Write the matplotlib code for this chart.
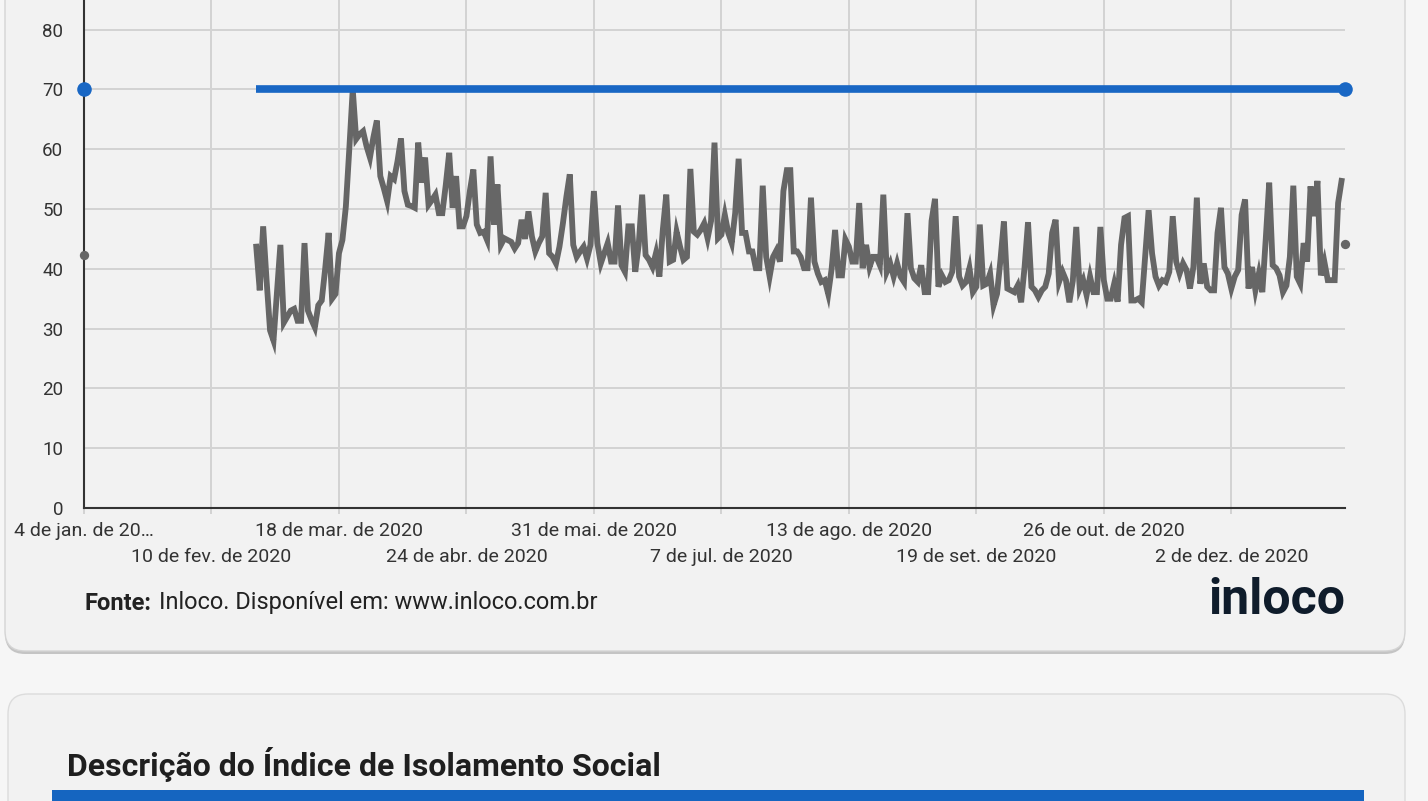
import numpy as np
import pandas as pd
import matplotlib
matplotlib.use('Agg')
import matplotlib.pyplot as plt
import matplotlib.dates as mdates
from matplotlib.patches import FancyBboxPatch, Rectangle

plt.rcParams['font.family'] = ['Roboto', 'DejaVu Sans']

# Social isolation index (%), one value per day starting on first_day
first_day = '2020-02-23'
isolation = [
    43.7, 36.4, 47.1, 38.0, 29.7, 28.0, 36.0,
    44.0, 31.0, 32.0, 33.0, 33.3, 31.3, 31.3,
    44.3, 33.0, 31.5, 30.2, 33.9, 34.7, 40.0,
    46.0, 35.0, 35.8, 42.6, 44.8, 50.4, 60.0,
    70.0, 61.7, 62.5, 63.0, 60.5, 58.6, 62.0,
    64.8, 55.5, 53.5, 51.3, 55.5, 55.0, 58.0,
    61.8, 53.0, 50.7, 50.5, 50.2, 61.1, 54.4,
    58.6, 50.7, 51.5, 52.4, 49.3, 49.3, 54.0,
    59.4, 50.2, 55.5, 47.1, 47.1, 48.8, 53.0,
    56.6, 47.4, 46.0, 46.2, 44.8, 58.8, 47.4,
    54.1, 44.0, 45.1, 44.8, 44.5, 43.4, 44.3,
    48.2, 45.0, 49.6, 45.4, 42.9, 44.3, 45.4,
    52.7, 42.6, 42.0, 40.9, 43.7, 47.6, 52.0,
    55.8, 44.0, 42.0, 42.9, 43.7, 41.7, 44.0,
    53.0, 44.3, 40.9, 42.6, 44.3, 41.2, 41.2,
    50.6, 40.6, 39.5, 47.1, 47.1, 39.5, 44.0,
    52.4, 42.3, 41.5, 40.3, 42.6, 38.7, 46.5,
    52.4, 41.2, 41.5, 46.2, 43.7, 41.5, 42.0,
    56.7, 46.2, 45.7, 46.5, 47.6, 45.1, 48.0,
    61.1, 45.1, 45.7, 49.0, 46.0, 44.3, 49.3,
    58.4, 46.0, 46.0, 42.9, 42.9, 40.1, 40.1,
    53.9, 42.0, 38.7, 42.0, 43.1, 41.2, 53.0,
    56.5, 56.5, 42.9, 42.9, 42.0, 40.1, 40.1,
    51.9, 41.2, 39.2, 37.8, 38.1, 35.8, 40.0,
    46.5, 38.9, 38.9, 44.9, 43.7, 41.2, 41.2,
    51.0, 40.1, 44.0, 40.3, 42.0, 42.0, 40.6,
    52.4, 39.5, 40.9, 38.7, 40.9, 38.7, 37.8,
    49.3, 40.1, 38.4, 37.8, 40.6, 36.1, 36.1,
    48.0, 51.7, 37.0, 38.9, 37.8, 38.1, 39.5,
    48.8, 38.7, 37.2, 37.8, 40.1, 36.1, 37.0,
    47.4, 37.2, 37.5, 39.2, 33.9, 35.8, 41.5,
    47.9, 36.7, 36.4, 36.1, 37.2, 34.4, 40.3,
    47.8, 37.0, 36.4, 35.3, 36.4, 37.0, 39.2,
    46.0, 48.2, 37.8, 39.5, 38.1, 34.4, 38.0,
    47.0, 36.7, 38.1, 35.6, 38.7, 36.1, 36.1,
    47.0, 38.1, 35.0, 35.0, 37.5, 34.5, 44.0,
    48.5, 48.8, 34.7, 34.7, 35.0, 34.4, 42.0,
    49.8, 42.6, 38.7, 37.2, 38.1, 37.8, 39.5,
    48.8, 41.2, 39.2, 40.9, 39.8, 36.7, 40.3,
    51.9, 37.5, 40.9, 37.0, 36.4, 36.4, 46.0,
    50.2, 40.3, 39.2, 36.7, 38.7, 39.8, 49.0,
    51.6, 36.7, 40.3, 36.4, 39.2, 36.1, 45.0,
    54.4, 40.6, 40.1, 38.9, 36.1, 37.2, 42.0,
    53.9, 38.7, 37.5, 44.3, 41.2, 53.8, 48.8,
    54.7, 38.9, 41.2, 38.1, 38.1, 38.1, 51.0,
    54.7,
]
reference_level = 70

# points drawn at the ends of the date range
edge_dates = ['2020-01-04', '2021-01-04']
edge_isolation = [42.3, 44.2]

row1_dates = ['2020-01-04', '2020-03-18', '2020-05-31', '2020-08-13', '2020-10-26']
row1_labels = ['4 de jan. de 20\u2026', '18 de mar. de 2020', '31 de mai. de 2020',
               '13 de ago. de 2020', '26 de out. de 2020']
row2_dates = ['2020-02-10', '2020-04-24', '2020-07-07', '2020-09-19', '2020-12-02']
row2_labels = ['10 de fev. de 2020', '24 de abr. de 2020', '7 de jul. de 2020',
               '19 de set. de 2020', '2 de dez. de 2020']
y_ticks = [0, 10, 20, 30, 40, 50, 60, 70, 80]

W, H = 1428, 801
GRAY = '#666666'
BLUE = '#1967c4'
GRID = '#d3d3d3'
TXT = '#333333'

days = pd.date_range(first_day, periods=len(isolation), freq='D')
edges = pd.to_datetime(edge_dates)

fig = plt.figure(figsize=(W / 100, H / 100), dpi=100)
fig.patch.set_facecolor('#f6f6f6')

# background layer in pixel units: cards, source, logo, section title
bg = fig.add_axes([0, 0, 1, 1])
bg.set_xlim(0, W)
bg.set_ylim(H, 0)
bg.axis('off')

bg.add_patch(FancyBboxPatch((5, -60), 1400, 714, boxstyle='round,pad=0,rounding_size=20',
                            fc='#b0b0b0', ec='none', alpha=0.7))
bg.add_patch(FancyBboxPatch((5, -60), 1400, 711, boxstyle='round,pad=0,rounding_size=20',
                            fc='#f2f2f2', ec='#d4d4d4', lw=1))
bg.add_patch(FancyBboxPatch((8, 694), 1397, 200, boxstyle='round,pad=0,rounding_size=20',
                            fc='#f2f2f2', ec='#dcdcdc', lw=1))

bg.text(85, 603, 'Fonte:', fontsize=17, fontweight='bold', color='#222222', va='center')
bg.text(159, 603, 'Inloco. Disponível em: www.inloco.com.br', fontsize=17,
        color='#222222', va='center')
bg.text(1345, 600, 'inloco', fontsize=36, fontweight='semibold', color='#0f1c2b',
        ha='right', va='center')

bg.text(67, 764, 'Descrição do Índice de Isolamento Social', fontsize=23,
        fontweight='bold', color='#1f1f1f', va='center')
bg.add_patch(Rectangle((52, 790), 1312, 20, fc='#1565c0', ec='none'))

# chart
ax = fig.add_axes([84 / W, 1 - 508 / H, (1345 - 84) / W, 508 / H])
ax.set_facecolor('none')

ax.plot(days, isolation, color=GRAY, lw=4.2, zorder=3, solid_joinstyle='miter')
ax.plot([days[0], edges[-1]], [reference_level, reference_level], color=BLUE, lw=5.5,
        zorder=4, solid_capstyle='butt')
ax.scatter(edges, edge_isolation, s=45, color=GRAY, zorder=5, clip_on=False, lw=0)
ax.scatter(edges, [reference_level] * len(edges), s=110, color=BLUE, zorder=5,
           clip_on=False, lw=0)

ax.set_xlim(edges[0], edges[-1])
ax.set_ylim(0, 508 / 5.98)

ax.set_yticks(y_ticks)
ax.set_xticks(pd.to_datetime(row1_dates))
ax.set_xticklabels(row1_labels)
ax.set_xticks(pd.to_datetime(row2_dates), minor=True)
ax.set_xticklabels(row2_labels, minor=True)

ax.grid(True, which='both', color=GRID, lw=1.4, zorder=0)
ax.set_axisbelow(True)
for s in ['top', 'right']:
    ax.spines[s].set_visible(False)
for s in ['left', 'bottom']:
    ax.spines[s].set_color('#333333')
    ax.spines[s].set_linewidth(1.5)

ax.tick_params(axis='y', length=0, pad=15, labelsize=13.5, labelcolor=TXT)
ax.tick_params(axis='x', which='both', length=4, width=1.4, color=GRID,
               labelsize=14, labelcolor=TXT)
ax.tick_params(axis='x', which='major', pad=6)
ax.tick_params(axis='x', which='minor', pad=25)

fig.savefig('out.png', dpi=100, facecolor=fig.get_facecolor())
